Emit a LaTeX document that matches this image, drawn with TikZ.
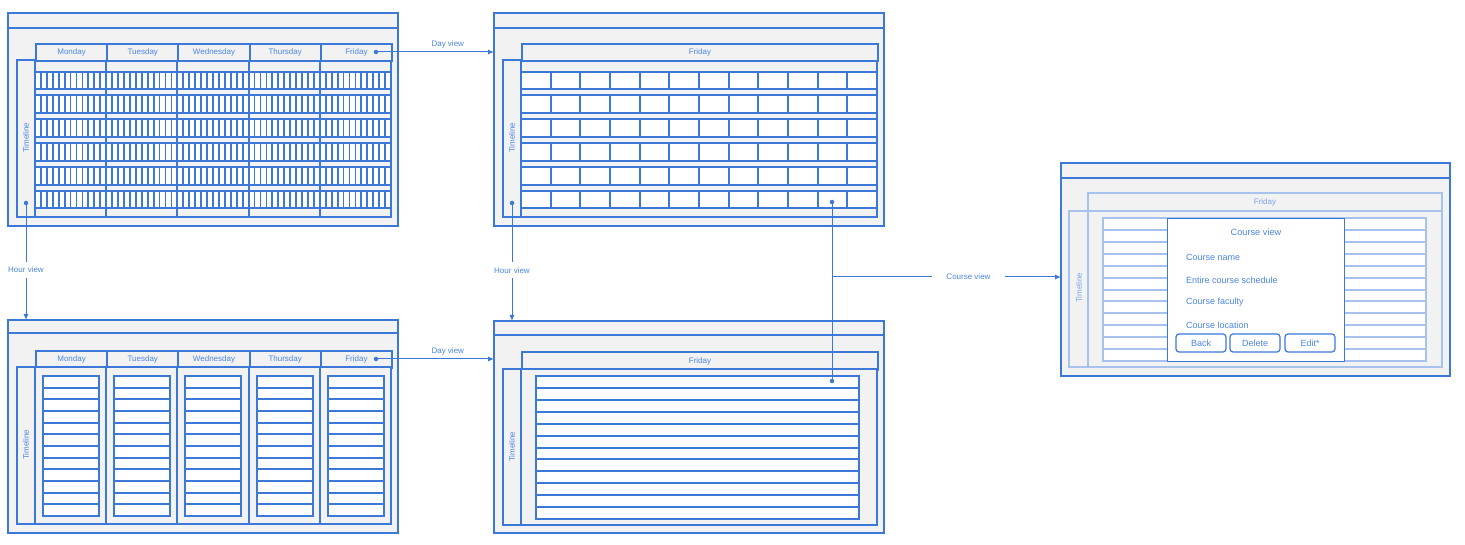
\documentclass[tikz,border=0pt]{standalone}
\usepackage{fontspec}
\setmainfont{Liberation Sans}
\usetikzlibrary{arrows.meta,calc,positioning}
\definecolor{wfblue}{HTML}{3C78D8}
\definecolor{wftext}{HTML}{4A86E8}
\definecolor{wfgray}{HTML}{F2F2F2}
\colorlet{wfpale}{wfblue!45!white}
\newcommand{\txt}[1]{\fontsize{#1}{#1}\selectfont}

\tikzset{
  window/.style={draw=wfblue, fill=wfgray, line width=2.2pt, inner sep=0pt,
    outer sep=0pt, anchor=north west},
  panel/.style={draw=wfblue, fill=wfgray, line width=2pt},
  cell/.style={draw=wfblue, fill=white, line width=2pt},
  rule/.style={draw=wfblue, line width=2pt},
  bar/.style={draw=wfblue, line width=1.8pt},
  hdr/.style={draw=wfblue, fill=wfgray, line width=2pt, inner sep=0pt,
    anchor=north west, minimum height=17pt, font=\txt{8}, text=wftext},
  vlabel/.style={rotate=90, font=\txt{8}, text=wftext},
  % greyed out background of the course view
  fpanel/.style={draw=wfpale, fill=wfgray, line width=2pt},
  fcell/.style={draw=wfpale, fill=white, line width=2pt},
  pin/.style={circle, fill=wfblue, inner sep=0pt, minimum size=4.5pt},
  link/.style={draw=wfblue, line width=1pt},
  tip/.style={-{Latex[length=6pt,width=5pt]}},
  linklabel/.style={font=\txt{8}, text=wftext, fill=white, inner sep=2pt},
  popup/.style={draw=wfblue, fill=white, line width=1.2pt, inner sep=0pt,
    anchor=north west},
  field/.style={anchor=west, font=\txt{9}, text=wftext, inner sep=0pt},
  btn/.style={draw=wfblue, fill=white, line width=1.2pt, rounded corners=3pt,
    minimum width=50pt, minimum height=18pt, inner sep=0pt, font=\txt{9},
    text=wftext},
}

\begin{document}
\begin{tikzpicture}[x=1pt, y=-1pt]
  \useasboundingbox (0,0) rectangle (1465,545);

  % week view
  \node[window, minimum width=390pt, minimum height=213pt] (wkWin) at (8,13) {};
  \draw[rule] (8,28) -- (398,28);
  \draw[panel] (17,60) rectangle (35,217);
  \node[vlabel] at (26,138) {Timeline};
  \foreach \d [count=\i from 0] in {Monday,Tuesday,Wednesday,Thursday,Friday}{
    \pgfmathsetmacro{\xa}{35+71.2*\i}
    \node[hdr, minimum width=71.2pt] at (\xa,43) {\d};
    \draw[panel] (\xa,61) rectangle ++(71.2,156);
    \foreach \r in {0,...,5}{
      \pgfmathsetmacro{\ya}{71.7+23.8*\r}
      \draw[cell] (\xa,\ya) rectangle ++(71.2,17.7);
      \foreach \k in {1,...,11}
        \draw[bar] ({\xa+5.933*\k},\ya) -- ++(0,17.7);
    }
  }
  \node[pin] (wkPin) at (376,52) {};
  \node[pin] (wkTime) at (26,203) {};

  % day view
  \node[window, minimum width=390pt, minimum height=213pt] (dayWin) at (494,13) {};
  \draw[rule] (494,28) -- (884,28);
  \draw[panel] (503,60) rectangle (521,217);
  \node[vlabel] at (512,138) {Timeline};
  \node[hdr, minimum width=356pt] at (521,43) {Friday};
  \draw[panel] (521,61) rectangle (877,217);
  \foreach \r in {0,...,5}{
    \pgfmathsetmacro{\ya}{71.7+23.8*\r}
    \draw[cell] (521,\ya) rectangle ++(356,17.7);
    \foreach \k in {1,...,11}
      \draw[rule] ({521+29.67*\k},\ya) -- ++(0,17.7);
  }
  \node[pin] (dayTime) at (512,203) {};
  \node[pin] (dayCell) at (832,202) {};

  % hour view, whole week
  \node[window, minimum width=390pt, minimum height=213pt] (hrWin) at (8,320) {};
  \draw[rule] (8,333) -- (398,333);
  \draw[panel] (17,367) rectangle (35,524);
  \node[vlabel] at (26,445) {Timeline};
  \foreach \d [count=\i from 0] in {Monday,Tuesday,Wednesday,Thursday,Friday}{
    \pgfmathsetmacro{\xa}{35+71.2*\i}
    \node[hdr, minimum width=71.2pt] at (\xa,350) {\d};
    \draw[panel] (\xa,367) rectangle ++(71.2,157);
    \foreach \r in {0,...,11}
      \draw[cell] ({\xa+8},{376+11.67*\r}) rectangle ++(56,11.67);
  }
  \node[pin] (hrPin) at (376,359) {};

  % hour view, one day
  \node[window, minimum width=390pt, minimum height=212pt] (hdWin) at (494,321) {};
  \draw[rule] (494,335) -- (884,335);
  \draw[panel] (503,369) rectangle (521,525);
  \node[vlabel] at (512,447) {Timeline};
  \node[hdr, minimum width=356pt, minimum height=18pt] at (521,351) {Friday};
  \draw[panel] (521,369) rectangle (877,525);
  \foreach \r in {0,...,11}
    \draw[cell] (536,{376+11.92*\r}) rectangle ++(323,11.92);
  \node[pin] (hdPin) at (832,381) {};

  % course view
  \node[window, minimum width=389pt, minimum height=213pt] (crsWin) at (1061,163) {};
  \draw[rule] (1061,178) -- (1450,178);
  \draw[fpanel] (1069,211) rectangle (1088,367);
  \node[vlabel, text=wfpale!50!wftext] at (1079,288) {Timeline};
  \draw[fpanel] (1088,193) rectangle (1442,211);
  \node[font=\txt{8}, text=wfpale!50!wftext] at (1265,202) {Friday};
  \draw[fpanel] (1088,211) rectangle (1442,367);
  \foreach \r in {0,...,11}
    \draw[fcell] (1103,{218+11.92*\r}) rectangle ++(323,11.92);
  \node[popup, minimum width=177pt, minimum height=143pt] (crsBox) at (1167,218) {};
  \node[font=\txt{9.2}, text=wftext] at (1256,232) {Course view};
  \node[field] at (1186,257) {Course name};
  \node[field] at (1186,280) {Entire course schedule};
  \node[field] at (1186,302) {Course faculty};
  \node[field] at (1186,325) {Course location};
  \node[btn] (back) at (1201,343) {Back};
  \node[btn] (delete) at (1255,343) {Delete};
  \node[btn] (edit) at (1310,343) {Edit*};

  % links between the screens
  \draw[link,tip] (wkPin) -- (wkPin -| dayWin.west)
    node[linklabel, pos=0.6, above=1pt, fill=none] {Day view};
  \draw[link,tip] (hrPin) -- (hrPin -| hdWin.west)
    node[linklabel, pos=0.6, above=1pt, fill=none] {Day view};
  \draw[link,tip] (wkTime) -- (wkTime |- hrWin.north)
    node[linklabel, pos=0.56, inner ysep=5pt] {Hour view};
  \draw[link,tip] (dayTime) -- (dayTime |- hdWin.north)
    node[linklabel, pos=0.56, inner ysep=5pt] {Hour view};
  \coordinate (join) at (832,277);
  \draw[link,tip] (dayCell) -- (join) -- (join -| crsWin.west)
    node[linklabel, pos=0.596, inner xsep=14pt] {Course view};
  \draw[link] (hdPin) -- (join);
\end{tikzpicture}
\end{document}
